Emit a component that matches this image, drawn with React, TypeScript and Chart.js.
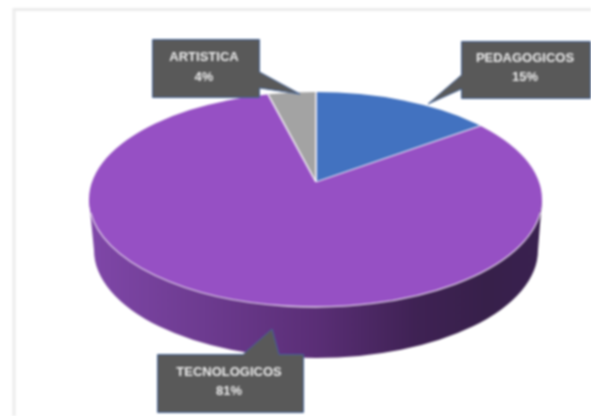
import React, { useEffect, useRef } from "react";
import { Chart, registerables } from "chart.js";

Chart.register(...registerables);

const categories = ["PEDAGOGICOS", "TECNOLOGICOS", "ARTISTICA"];
const percentages = [15, 81, 4];
const sliceColors = ["#4272c0", "#9650c4", "#a3a3a3"];

const WIDTH = 591;
const HEIGHT = 416;
const APEX = { x: 316, y: 182 };
const TILT = 0.47;
const TOP_FACE = { x: 315.5, y: 199.5, rx: 226.5, ry: 107.5 };
const BOTTOM_FACE = { x: 316, y: 250, rx: 222, ry: 108 };

type Callout = { outline: number[][]; textX: number; nameY: number; valueY: number };
const callouts: Callout[] = [
  {
    outline: [[461.5, 41.5], [590.5, 41.5], [590.5, 98.5], [461.5, 98.5], [461.5, 89], [428, 104], [461.5, 75]],
    textX: 525, nameY: 58, valueY: 77,
  },
  {
    outline: [[157.5, 354.5], [243, 354.5], [272, 329], [279, 354.5], [303.5, 354.5], [303.5, 412.5], [157.5, 412.5]],
    textX: 229, nameY: 372, valueY: 391,
  },
  {
    outline: [[152.5, 39.5], [259.5, 39.5], [259.5, 72], [300, 94], [259.5, 88], [259.5, 97.5], [152.5, 97.5]],
    textX: 204, nameY: 57, valueY: 77,
  },
];

const piePlugin = {
  id: "tiltedPie",
  beforeDraw(chart: any) {
    const { ctx } = chart;
    ctx.save();
    ctx.fillStyle = "#ffffff";
    ctx.fillRect(0, 0, WIDTH, HEIGHT);
    ctx.strokeStyle = "#ececec";
    ctx.lineWidth = 3;
    ctx.beginPath();
    ctx.moveTo(14, HEIGHT);
    ctx.lineTo(14, 9.5);
    ctx.lineTo(WIDTH, 9.5);
    ctx.stroke();
    ctx.restore();
  },
  beforeDatasetsDraw(chart: any) {
    const { ctx, chartArea } = chart;
    // Side wall
    const g = ctx.createLinearGradient(TOP_FACE.x - TOP_FACE.rx, 0, TOP_FACE.x + TOP_FACE.rx, 0);
    g.addColorStop(0, "#7f47a8");
    g.addColorStop(0.25, "#6d3b90");
    g.addColorStop(0.5, "#5a2e76");
    g.addColorStop(0.72, "#3f2254");
    g.addColorStop(0.88, "#37204a");
    g.addColorStop(1, "#3a2150");
    ctx.save();
    ctx.fillStyle = g;
    ctx.beginPath();
    ctx.moveTo(TOP_FACE.x - TOP_FACE.rx, TOP_FACE.y);
    ctx.lineTo(BOTTOM_FACE.x - BOTTOM_FACE.rx, BOTTOM_FACE.y);
    ctx.ellipse(BOTTOM_FACE.x, BOTTOM_FACE.y, BOTTOM_FACE.rx, BOTTOM_FACE.ry, 0, Math.PI, 0, true);
    ctx.lineTo(TOP_FACE.x + TOP_FACE.rx, TOP_FACE.y);
    ctx.closePath();
    ctx.fill();
    ctx.restore();
    // Top face: the library's slices, tilted and trimmed to the ellipse
    ctx.save();
    ctx.beginPath();
    ctx.ellipse(TOP_FACE.x, TOP_FACE.y, TOP_FACE.rx, TOP_FACE.ry, 0, 0, Math.PI * 2);
    ctx.clip();
    const cx = (chartArea.left + chartArea.right) / 2;
    const cy = (chartArea.top + chartArea.bottom) / 2;
    ctx.translate(APEX.x, APEX.y);
    ctx.scale(1, TILT);
    ctx.translate(-cx, -cy);
  },
  afterDatasetsDraw(chart: any) {
    const { ctx } = chart;
    ctx.restore();
    // Bright front rim
    ctx.save();
    ctx.strokeStyle = "rgba(235,225,240,0.9)";
    ctx.lineWidth = 1.3;
    ctx.beginPath();
    ctx.ellipse(TOP_FACE.x, TOP_FACE.y, TOP_FACE.rx, TOP_FACE.ry, 0, 0.12, Math.PI - 0.12);
    ctx.stroke();
    ctx.restore();
    // Callouts
    callouts.forEach((c, i) => {
      ctx.save();
      ctx.fillStyle = "#595959";
      ctx.strokeStyle = "#44659c";
      ctx.lineWidth = 1;
      ctx.lineJoin = "miter";
      ctx.beginPath();
      c.outline.forEach((p, k) => (k === 0 ? ctx.moveTo(p[0], p[1]) : ctx.lineTo(p[0], p[1])));
      ctx.closePath();
      ctx.fill();
      ctx.stroke();
      ctx.fillStyle = "#ececec";
      ctx.font = 'bold 13px "Liberation Sans", sans-serif';
      ctx.textAlign = "center";
      ctx.textBaseline = "middle";
      ctx.fillText(categories[i], c.textX, c.nameY);
      ctx.fillText(`${percentages[i]}%`, c.textX, c.valueY);
      ctx.restore();
    });
  },
};

export default function App() {
  const ref = useRef<HTMLCanvasElement>(null);
  useEffect(() => {
    const chart = new Chart(ref.current as HTMLCanvasElement, {
      type: "pie",
      data: {
        labels: categories,
        datasets: [
          {
            data: percentages,
            backgroundColor: sliceColors,
            borderColor: "#f2eef5",
            borderWidth: 1.6,
            radius: 420,
            clip: false,
          } as any,
        ],
      },
      options: {
        responsive: false,
        animation: false,
        events: [],
        layout: { padding: 0 },
        plugins: { legend: { display: false }, tooltip: { enabled: false } },
      },
      plugins: [piePlugin],
    });
    return () => chart.destroy();
  }, []);
  return (
    <div style={{ position: "fixed", left: 0, top: 0, width: WIDTH, height: HEIGHT, overflow: "hidden" }}>
      <canvas ref={ref} width={WIDTH} height={HEIGHT} style={{ display: "block", filter: "blur(0.8px)" }} />
    </div>
  );
}
